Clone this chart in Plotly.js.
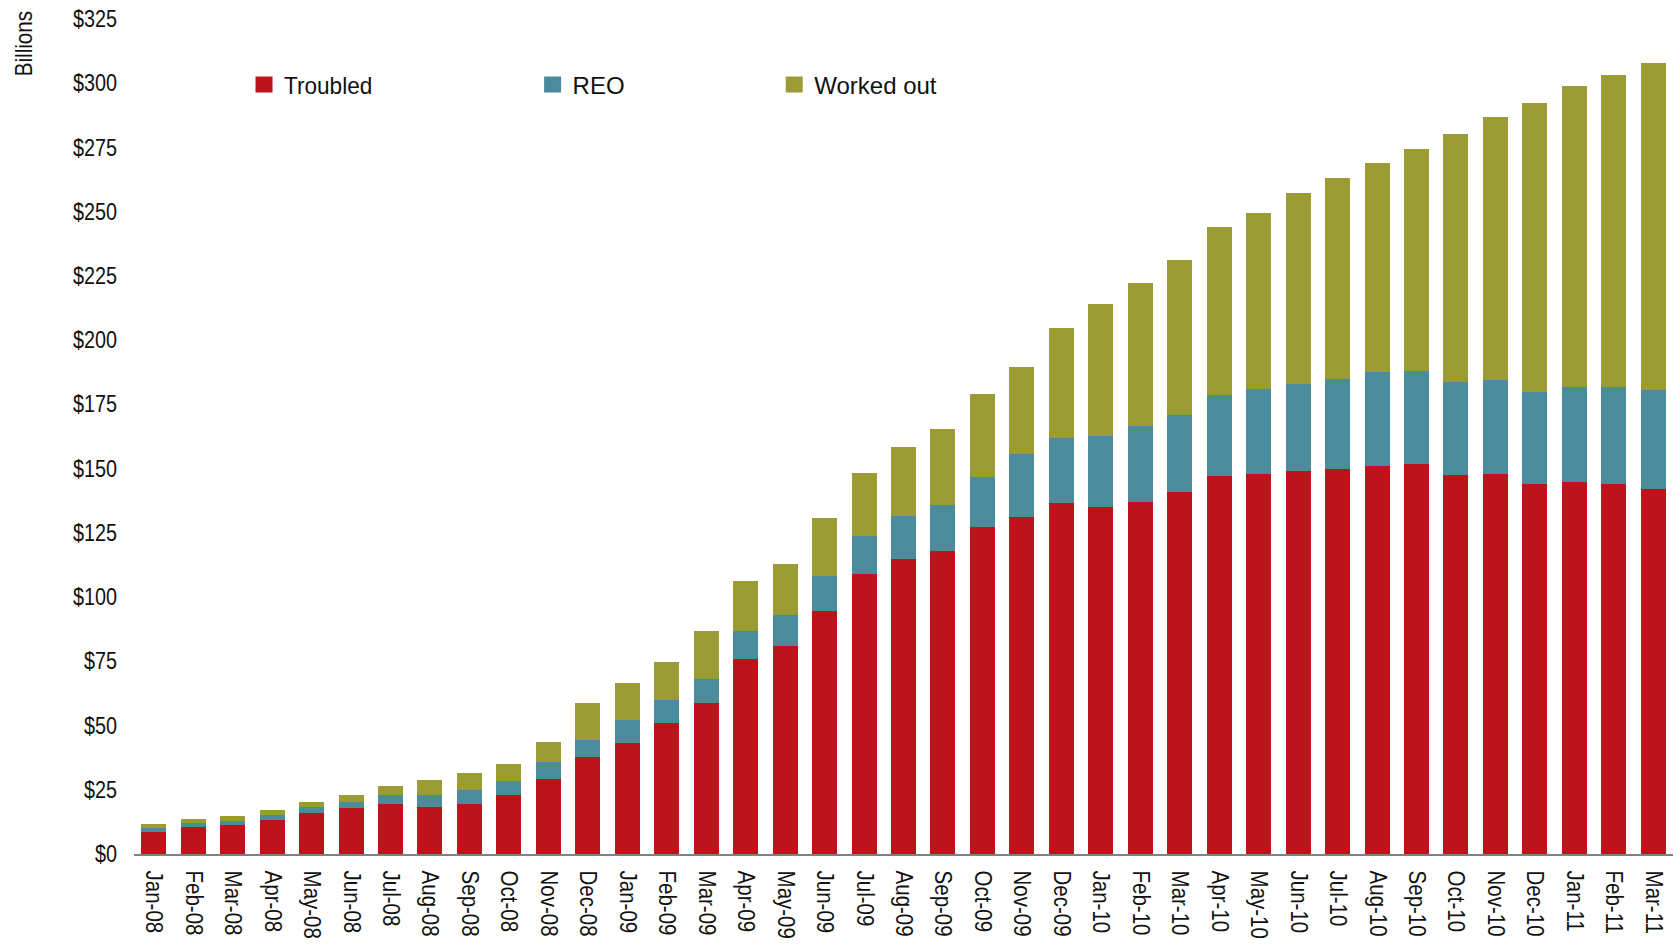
<!DOCTYPE html>
<html>
<head>
<meta charset="utf-8">
<script src="https://cdn.plot.ly/plotly-3.0.1.min.js"></script>
<style>
  html, body { margin: 0; padding: 0; background: #ffffff; }
  #chart { width: 1675px; height: 948px; }
</style>
</head>
<body>
<div id="chart"></div>
<script>
// Monthly loan balances in billions of dollars, Jan-08 through Mar-11
const months = [
  "Jan-08","Feb-08","Mar-08","Apr-08","May-08","Jun-08","Jul-08","Aug-08","Sep-08","Oct-08","Nov-08","Dec-08",
  "Jan-09","Feb-09","Mar-09","Apr-09","May-09","Jun-09","Jul-09","Aug-09","Sep-09","Oct-09","Nov-09","Dec-09",
  "Jan-10","Feb-10","Mar-10","Apr-10","May-10","Jun-10","Jul-10","Aug-10","Sep-10","Oct-10","Nov-10","Dec-10",
  "Jan-11","Feb-11","Mar-11"
];

const troubled = [
  8.6, 10.5, 11.3, 13.3, 16.0, 18.0, 19.5, 18.3, 19.5, 23.0, 29.2, 37.8,
  43.2, 51.0, 58.8, 75.9, 81.0, 94.6, 109.0, 114.8, 117.9, 127.3, 131.2, 136.6,
  135.1, 137.0, 140.9, 147.1, 147.9, 149.1, 149.9, 151.0, 151.8, 147.5, 147.9, 144.0,
  144.8, 144.0, 142.1
];

const reo = [
  1.5, 1.6, 1.5, 1.9, 2.3, 2.4, 3.5, 4.7, 5.4, 5.4, 6.6, 6.6,
  9.0, 8.9, 9.3, 10.9, 12.0, 13.6, 14.8, 16.8, 17.9, 19.4, 24.5, 25.3,
  27.6, 29.6, 30.0, 31.6, 33.1, 33.9, 35.0, 36.6, 36.2, 36.2, 36.6, 35.8,
  37.0, 37.8, 38.5
];

const workedOut = [
  1.6, 1.5, 2.0, 1.9, 1.9, 2.6, 3.5, 5.8, 6.6, 6.6, 7.8, 14.4,
  14.4, 14.8, 18.7, 19.5, 19.9, 22.6, 24.5, 26.8, 29.6, 32.4, 33.9, 42.8,
  51.4, 55.7, 60.3, 65.4, 68.5, 74.3, 78.2, 81.4, 86.4, 96.6, 102.4, 112.5,
  117.1, 121.4, 127.3
];

const yTicks = [0, 25, 50, 75, 100, 125, 150, 175, 200, 225, 250, 275, 300, 325];

const FONT = "'Liberation Sans', Arial, sans-serif";
const INK = "#111111";

function barTrace(name, values, color, legendId) {
  return {
    type: "bar",
    name: name,
    x: months,
    y: values,
    marker: { color: color, line: { width: 0 } },
    legend: legendId,
    hovertemplate: "%{x}<br>" + name + ": $%{y:.1f}B<extra></extra>"
  };
}

const data = [
  barTrace("Troubled", troubled, "#BD141C", "legend"),
  barTrace("REO", reo, "#4A8C9B", "legend2"),
  barTrace("Worked out", workedOut, "#9A9B33", "legend3")
];

function legendAt(x) {
  return {
    x: x, y: 0.921, xref: "paper", yref: "paper",
    xanchor: "left", yanchor: "middle",
    orientation: "h",
    bgcolor: "rgba(0,0,0,0)",
    font: { family: FONT, size: 24, color: INK },
    itemwidth: 30
  };
}

const layout = {
  width: 1675,
  height: 948,
  margin: { l: 134, r: 2, t: 19, b: 94, pad: 0 },
  paper_bgcolor: "#ffffff",
  plot_bgcolor: "#ffffff",
  barmode: "stack",
  bargap: 0.367,
  font: { family: FONT, size: 23, color: INK },
  showlegend: true,
  legend: legendAt(0.0715),
  legend2: legendAt(0.259),
  legend3: legendAt(0.416),
  xaxis: {
    type: "category",
    tickvals: months,
    ticktext: months,
    tickangle: 90,
    showgrid: false,
    zeroline: false,
    showline: true,
    linecolor: "#808080",
    linewidth: 2,
    ticks: "",
    ticklabelstandoff: 10,
    tickfont: { family: FONT, size: 23, color: INK },
    range: [-0.5, 38.5]
  },
  yaxis: {
    range: [0, 325],
    tickvals: yTicks,
    ticktext: yTicks.map(v => "$" + v),
    showgrid: false,
    zeroline: false,
    showline: false,
    ticks: "",
    ticklabelstandoff: 16,
    tickfont: { family: FONT, size: 23, color: INK }
  },
  annotations: [
    {
      text: "Billions",
      xref: "paper", yref: "paper",
      x: -0.0715, y: 0.9705,
      xanchor: "center", yanchor: "middle",
      textangle: -90,
      showarrow: false,
      borderpad: 0,
      font: { family: FONT, size: 24, color: INK }
    }
  ]
};

// Narrow the glyphs of a group of labels to a condensed look
function condense(root, selector, factor) {
  root.querySelectorAll(selector).forEach(el => {
    const w = el.getComputedTextLength();
    if (w > 0) {
      el.setAttribute("textLength", (w * factor).toFixed(2));
      el.setAttribute("lengthAdjust", "spacingAndGlyphs");
    }
  });
}

const gd = document.getElementById("chart");
Plotly.newPlot(gd, data, layout, { displayModeBar: false }).then(() => {
  condense(gd, ".ytick text", 0.86);
  condense(gd, ".xtick text", 0.89);
  condense(gd, ".legendtext", 0.94);
  condense(gd, ".annotation-text", 0.86);
  // larger legend swatches: redraw the square path about its own centre
  gd.querySelectorAll(".legendpoints path").forEach(p => {
    p.setAttribute("d", "M8.5,8H-8.5V-8H8.5Z");
  });
});
</script>
</body>
</html>
